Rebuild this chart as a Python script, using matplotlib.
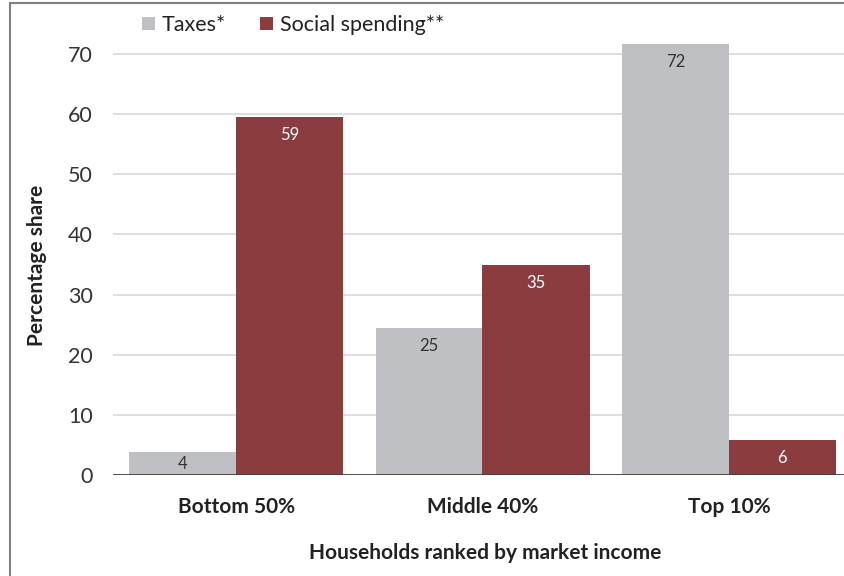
import numpy as np
import matplotlib
matplotlib.use("Agg")
from matplotlib import pyplot as plt
from matplotlib.lines import Line2D

plt.rcParams['font.family'] = ['Lato', 'DejaVu Sans']

# shares by household group
groups = ['Bottom 50%', 'Middle 40%', 'Top 10%']
taxes = [3.8, 24.4, 71.7]
social = [59.5, 34.9, 5.8]
tax_labels = ['4', '25', '72']
social_labels = ['59', '35', '6']
yticks = [0, 10, 20, 30, 40, 50, 60, 70]

gray = '#BFC0C4'
red = '#8B3C3F'

W, H = 844, 576
fig = plt.figure(figsize=(W / 100, H / 100), dpi=100)
ax = fig.add_axes([113.5 / W, 101 / H, 739 / W, 436 / H])

x = np.arange(len(groups))
bw = 0.435
b1 = ax.bar(x - 0.218, taxes, bw, color=gray, zorder=2, label='Taxes*')
b2 = ax.bar(x + 0.215, social, bw, color=red, zorder=3, label='Social spending**')

for rect, t, v in zip(b1, tax_labels, taxes):
    ypos = v / 2 if v < 10 else v - 3
    ax.text(rect.get_x() + rect.get_width() / 2, ypos, t, ha='center', va='center',
            fontsize=12, color='#333333', zorder=5)
for rect, t, v in zip(b2, social_labels, social):
    ypos = v / 2 if v < 10 else v - 3
    ax.text(rect.get_x() + rect.get_width() / 2, ypos, t, ha='center', va='center',
            fontsize=12, color='white', zorder=5)

ax.set_xlim(-0.5, 2.5)
ax.set_ylim(0, 72.5)
ax.set_yticks(yticks)
ax.set_yticklabels([str(v) for v in yticks], fontsize=15.5, color='#333333')
ax.set_xticks(x)
ax.set_xticklabels(groups, fontsize=15, fontweight='bold', color='#222222')
ax.tick_params(axis='both', length=0)
ax.tick_params(axis='y', pad=15)
ax.tick_params(axis='x', pad=16)
for s in ax.spines.values():
    s.set_visible(False)
for v in yticks[1:]:
    ax.axhline(v, color='#D9D9D9', lw=1.2, zorder=1)
ax.axhline(0, color='#404040', lw=1.3, zorder=4)

fig.text(37 / W, 1 - 265 / H, 'Percentage share', rotation=90, ha='center', va='center',
         fontsize=15, fontweight='bold', color='#222222')
fig.text(485 / W, 1 - 553 / H, 'Households ranked by market income', ha='center', va='center',
         fontsize=15, fontweight='bold', color='#222222')

fig.legend(handles=[b1, b2], loc='center left', bbox_to_anchor=(123 / W, 1 - 25 / H),
           ncol=2, frameon=False, fontsize=15.5, handlelength=0.6, handleheight=0.6,
           handletextpad=0.3, columnspacing=1.6, labelcolor='#222222')

# outer frame of the original figure box
fig.add_artist(Line2D([10 / W, 10 / W], [0, 1 - 3 / H], color='#808080', lw=1.5))
fig.add_artist(Line2D([10 / W, 1], [1 - 3 / H, 1 - 3 / H], color='#808080', lw=1.5))

fig.savefig('out.png', dpi=100)
